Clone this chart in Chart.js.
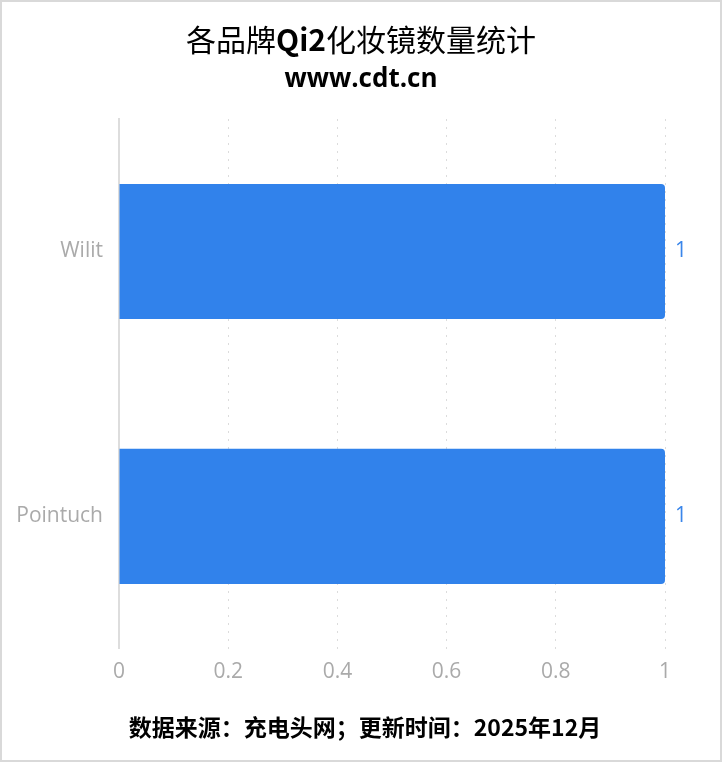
<!DOCTYPE html>
<html lang="zh-CN">
<head>
    <meta charset="UTF-8">
    <title>各品牌Qi2化妆镜数量统计</title>
    <script src="https://cdn.jsdelivr.net/npm/chart.js"></script>
    <style>
        html, body {
            margin: 0;
            padding: 0;
            background: #ffffff;
        }

        .frame {
            box-sizing: border-box;
            width: 722px;
            height: 762px;
            border: 2px solid #d9d9d9;
        }

        canvas {
            display: block;
        }
    </style>
</head>
<body>
    <div class="frame">
        <canvas id="qi2Chart" width="718" height="758"></canvas>
    </div>
    <script>
        // chart data
        const brands = ['Wilit', 'Pointuch'];
        const counts = [1, 1];
        const xMax = 1;
        const xStep = 0.2;

        // title is drawn in parts so "Qi2" can be bold like the original
        const titleParts = [['各品牌', 'normal'], ['Qi2', 'bold'], ['化妆镜数量统计', 'normal']];
        const subtitleText = 'www.cdt.cn';
        const footerText = '数据来源：充电头网；更新时间：2025年12月';

        const barColor = '#3182eb';
        const cjkFont = "'Noto Sans CJK SC', 'Noto Sans', sans-serif";
        const labelFont = "'Open Sans', 'Noto Sans', sans-serif";

        // value labels at the end of every bar
        const valueLabels = {
            id: 'valueLabels',
            afterDatasetsDraw(chart) {
                const ctx = chart.ctx;
                ctx.save();
                ctx.font = '21px ' + labelFont;
                ctx.fillStyle = '#3a86ea';
                ctx.textAlign = 'left';
                ctx.textBaseline = 'middle';
                chart.getDatasetMeta(0).data.forEach((bar, i) => {
                    ctx.fillText(String(counts[i]), bar.x + 10, bar.y);
                });
                ctx.restore();
            }
        };

        // headings and source line, centred on the whole picture
        const headings = {
            id: 'headings',
            afterDraw(chart) {
                const ctx = chart.ctx;
                const cx = chart.width / 2;
                ctx.save();
                ctx.fillStyle = '#000';
                ctx.textBaseline = 'middle';
                ctx.textAlign = 'left';

                let total = 0;
                titleParts.forEach(([txt, w]) => {
                    ctx.font = w + ' 30px ' + cjkFont;
                    total += ctx.measureText(txt).width;
                });
                let x = cx - total / 2;
                titleParts.forEach(([txt, w]) => {
                    ctx.font = w + ' 30px ' + cjkFont;
                    ctx.fillText(txt, x, 38);
                    x += ctx.measureText(txt).width;
                });

                ctx.textAlign = 'center';
                ctx.font = 'bold 26px ' + labelFont;
                ctx.fillText(subtitleText, cx, 78);

                ctx.font = 'bold 23px ' + cjkFont;
                ctx.fillText(footerText, cx + 4, 725);
                ctx.restore();
            }
        };

        new Chart(document.getElementById('qi2Chart'), {
            type: 'bar',
            data: {
                labels: brands,
                datasets: [{
                    data: counts,
                    backgroundColor: barColor,
                    borderRadius: 4,
                    borderSkipped: 'start',
                    categoryPercentage: 0.51,
                    barPercentage: 1
                }]
            },
            options: {
                indexAxis: 'y',
                responsive: false,
                animation: false,
                layout: {
                    padding: { top: 117, right: 55, bottom: 64, left: 13 }
                },
                plugins: {
                    legend: { display: false },
                    tooltip: { enabled: false },
                    title: { display: false }
                },
                scales: {
                    x: {
                        min: 0,
                        max: xMax,
                        ticks: {
                            stepSize: xStep,
                            color: '#aaaaaa',
                            padding: 11,
                            font: { family: labelFont, size: 21 },
                            callback: v => String(Math.round(v * 10) / 10)
                        },
                        grid: {
                            color: '#dcdcdc',
                            drawTicks: false
                        },
                        border: { display: false, dash: [2, 6] }
                    },
                    y: {
                        afterFit: scale => { scale.width = 104; },
                        ticks: {
                            color: '#aaaaaa',
                            padding: 16,
                            font: { family: labelFont, size: 21 }
                        },
                        grid: { display: false, drawTicks: false },
                        border: { display: true, color: '#dddddd', width: 2 }
                    }
                }
            },
            plugins: [valueLabels, headings]
        });
    </script>
</body>
</html>
